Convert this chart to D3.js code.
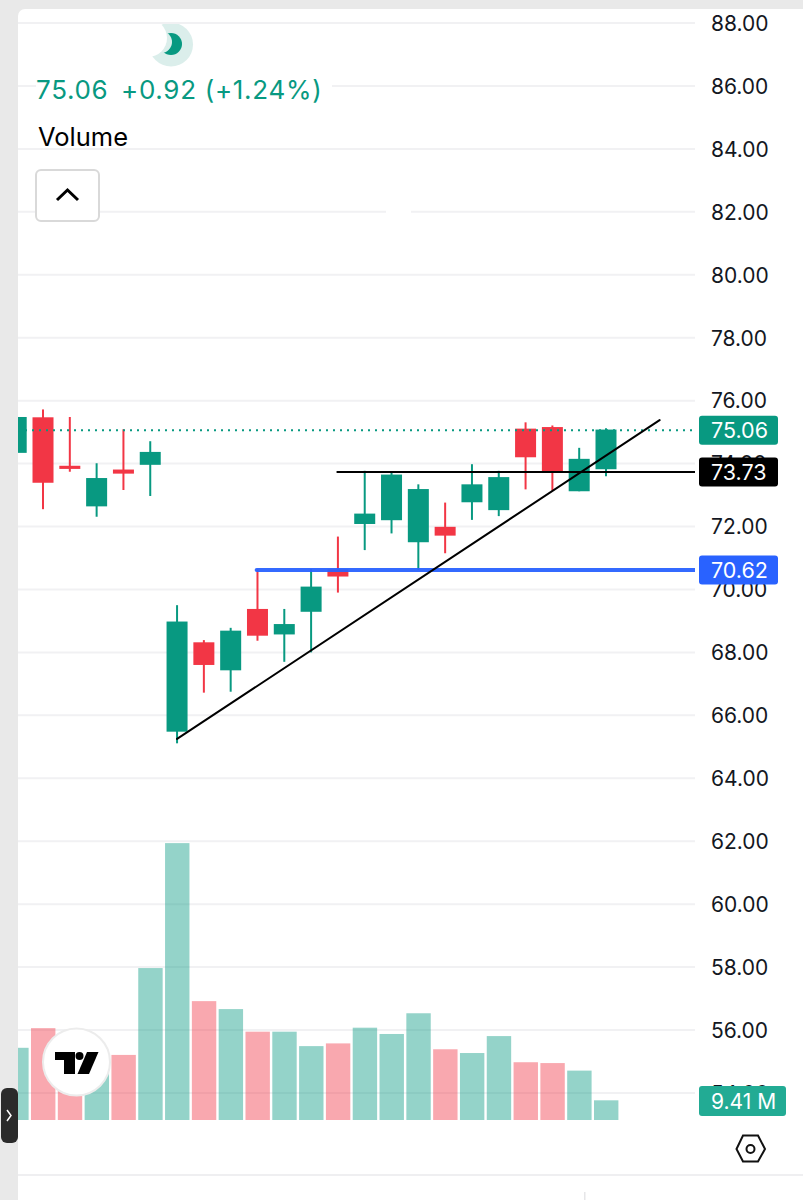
<!DOCTYPE html>
<html><head><meta charset="utf-8">
<script src="https://cdn.jsdelivr.net/npm/d3@7/dist/d3.min.js"></script>
<style>html,body{margin:0;padding:0;background:#fff}svg{display:block}text{font-family:Inter,"Noto Sans",sans-serif}</style>
</head><body><svg id="c" width="803" height="1200"></svg>
<script>
const opens  = [74.34,75.47,73.93,72.64,73.81,73.96,65.48,68.32,67.43,69.38,68.57,69.29,70.64,72.08,72.20,71.50,71.99,72.77,72.52,75.11,75.16,73.12,73.82];
const closes = [75.48,73.39,73.83,73.54,73.68,74.37,68.98,67.60,68.69,68.53,68.90,70.09,70.41,72.41,73.65,73.19,71.71,73.34,73.57,74.20,73.72,74.15,75.08];
const highs  = [75.48,75.72,75.48,74.01,75.09,74.71,69.50,68.39,68.78,70.64,69.38,70.65,71.68,73.77,73.75,73.34,72.76,73.98,73.77,75.31,75.21,74.50,75.12];
const lows   = [74.34,72.55,73.74,72.31,73.16,72.97,65.11,66.72,66.75,68.37,67.70,68.00,69.90,71.25,71.78,70.62,71.15,72.21,72.33,73.18,73.14,73.12,73.60];
const volumes= [34.5,43.9,34.4,28.7,31.1,72.6,132.3,56.8,53.0,42.2,42.2,35.3,36.6,44.1,41.1,51.0,33.8,32.0,40.1,27.6,27.2,23.6,9.41];
const priceTicks = d3.range(54,90,2);
const lastPrice = 75.06, blackLevel = 73.73, blueLevel = 70.62;
const blackStart = 11.95, blueStart = 8.97;
const trendI = [6,24], trendP = [65.25,75.38];
const legendText = ["75.06","+0.92 (+1.24%)"];

const GREEN="#089981",RED="#f23645",BLUE="#2962ff";
const svg=d3.select("#c");
const x=d3.scaleLinear().domain([0,22]).range([16.2,606]);
const y=d3.scaleLinear().domain([88,56]).range([23,1030]);
const v=d3.scaleLinear().domain([0,140]).range([1120,827]);
const W=21, R=695;
const cols=opens.map((o,i)=>closes[i]>=o?GREEN:RED);

// frame
svg.append("rect").attr("width",803).attr("height",1200).attr("fill","#e9e9e9");
svg.append("rect").attr("x",18).attr("y",9).attr("width",800).attr("height",1200).attr("rx",7).attr("fill","#fff");

// moon cut-out sits under the grid so the top line stays whole
svg.append("clipPath").attr("id","m").append("rect").attr("x",120).attr("y",22).attr("width",90).attr("height",60);
const mo=svg.append("g").attr("clip-path","url(#m)");
mo.append("circle").attr("cx",171).attr("cy",44.5).attr("r",22).attr("fill","#dbeeeb");
mo.append("circle").attr("cx",171).attr("cy",44).attr("r",11).attr("fill",GREEN);
mo.append("circle").attr("cx",161).attr("cy",42).attr("r",11).attr("fill","#dbeeeb");
mo.append("circle").attr("cx",148).attr("cy",38).attr("r",19).attr("fill","#fff");

// grid
svg.append("g").selectAll("line").data(priceTicks).join("line")
 .attr("x1",18).attr("x2",R).attr("y1",d=>y(d)).attr("y2",d=>y(d))
 .attr("stroke","#f1f1f3").attr("stroke-width",2);
svg.append("rect").attr("x",36).attr("y",72).attr("width",296).attr("height",34).attr("fill","#fff");
svg.append("rect").attr("x",386).attr("y",207).attr("width",25).attr("height",8).attr("fill","#fff");
svg.append("rect").attr("x",18).attr("y",1174).attr("width",785).attr("height",2).attr("fill","#efeff1");
svg.append("rect").attr("x",584).attr("y",1192).attr("width",1.5).attr("height",8).attr("fill","#e6e6e8");

// clip to panel
svg.append("clipPath").attr("id","p").append("rect").attr("x",18).attr("y",9).attr("width",677).attr("height",1191);
const plot=svg.append("g").attr("clip-path","url(#p)");

// volume
plot.append("g").selectAll("rect").data(volumes).join("rect")
 .attr("x",(d,i)=>x(i)-12).attr("width",24.4)
 .attr("y",d=>v(d)).attr("height",d=>v(0)-v(d))
 .attr("fill",(d,i)=>cols[i]).attr("fill-opacity",0.43);

// candles
plot.append("g").selectAll("line").data(opens).join("line")
 .attr("x1",(d,i)=>x(i)).attr("x2",(d,i)=>x(i))
 .attr("y1",(d,i)=>y(highs[i])).attr("y2",(d,i)=>y(lows[i]))
 .attr("stroke",(d,i)=>cols[i]).attr("stroke-width",2);
plot.append("g").selectAll("rect").data(opens).join("rect")
 .attr("x",(d,i)=>x(i)-W/2).attr("width",W)
 .attr("y",(d,i)=>y(Math.max(d,closes[i])))
 .attr("height",(d,i)=>Math.abs(y(d)-y(closes[i])))
 .attr("fill",(d,i)=>cols[i]);

// levels
plot.append("line").attr("x1",18).attr("x2",R).attr("y1",y(lastPrice)).attr("y2",y(lastPrice))
 .attr("stroke",GREEN).attr("stroke-width",2).attr("stroke-dasharray","2 5");
plot.append("line").attr("x1",x(blackStart)).attr("x2",R).attr("y1",y(blackLevel)).attr("y2",y(blackLevel))
 .attr("stroke","#000").attr("stroke-width",2);
plot.append("line").attr("x1",x(blueStart)).attr("x2",R).attr("y1",y(blueLevel)).attr("y2",y(blueLevel))
 .attr("stroke",BLUE).attr("stroke-width",4).attr("stroke-linecap","round").attr("stroke-opacity",.95);
plot.append("path").datum(trendI.map((d,i)=>[x(d),y(trendP[i])]))
 .attr("d",d3.line()).attr("fill","none").attr("stroke","#000").attr("stroke-width",2).attr("stroke-linecap","round");

// price axis
const ax=svg.append("g").attr("transform","translate(711,0)")
 .call(d3.axisRight(y).tickValues(priceTicks).tickFormat(d3.format(".2f")).tickSize(0).tickPadding(0));
ax.select(".domain").remove();
ax.selectAll("text").attr("font-size",21).attr("fill","#131722").attr("x",0).attr("dy","0.35em");

// tags
function tag(val,label,fill,w){
  const yy=y(val);
  const g=svg.append("g");
  g.append("rect").attr("x",699).attr("y",yy-14.5).attr("width",w).attr("height",29).attr("rx",3).attr("fill",fill);
  g.append("text").attr("x",711).attr("y",yy).attr("dy","0.36em").attr("font-size",21.5).attr("fill","#fff").text(label);
}
tag(lastPrice,"75.06",GREEN,79);
tag(blackLevel,"73.73","#000",79);
tag(blueLevel,"70.62",BLUE,79);
const vg=svg.append("g");
vg.append("rect").attr("x",699).attr("y",1086).attr("width",87).attr("height",30).attr("rx",3).attr("fill","#22ab94");
vg.append("text").attr("x",711).attr("y",1101).attr("dy","0.36em").attr("font-size",21).attr("fill","#fff").text(volumes[22]+" M");

// legend
const lg=svg.append("g");
lg.append("text").attr("x",36).attr("y",99).attr("font-size",26).attr("letter-spacing",0.7).attr("fill",GREEN).text(legendText[0]);
lg.append("text").attr("x",121).attr("y",99).attr("font-size",26).attr("letter-spacing",0.7).attr("fill",GREEN).text(legendText[1]);
lg.append("text").attr("x",38).attr("y",146).attr("font-size",25.5).attr("fill","#000").text("Volume");
lg.append("rect").attr("x",36).attr("y",170).attr("width",63).attr("height",51).attr("rx",5).attr("fill","#fff").attr("stroke","#d9d9d9").attr("stroke-width",2);
lg.append("path").attr("d","M57 200L67.5 190L78 200").attr("fill","none").attr("stroke","#000").attr("stroke-width",3);

// logo
svg.append("circle").attr("cx",76.5).attr("cy",1062).attr("r",33.5).attr("fill","#fff").attr("stroke","#ececec").attr("stroke-width",2);
const lo=svg.append("g").attr("fill","#000");
lo.append("path").attr("d","M55 1052H75V1074H64V1060H55Z");
lo.append("circle").attr("cx",79.5).attr("cy",1056).attr("r",4);
lo.append("path").attr("d","M87 1052H98.5L89 1074H77.5Z");

// handle
svg.append("rect").attr("x",1).attr("y",1088).attr("width",17).attr("height",55).attr("rx",6).attr("fill","#2b2b2b");
svg.append("path").attr("d","M7 1110L11 1115.5L7 1121").attr("fill","none").attr("stroke","#fff").attr("stroke-width",1.5);

// settings hexagon
svg.append("path").attr("d","M743 1135.5H758L765 1149L758 1161.5H743L736.5 1149Z").attr("fill","none").attr("stroke","#111").attr("stroke-width",2);
svg.append("circle").attr("cx",750.5).attr("cy",1149).attr("r",4).attr("fill","none").attr("stroke","#111").attr("stroke-width",2);
</script></body></html>
